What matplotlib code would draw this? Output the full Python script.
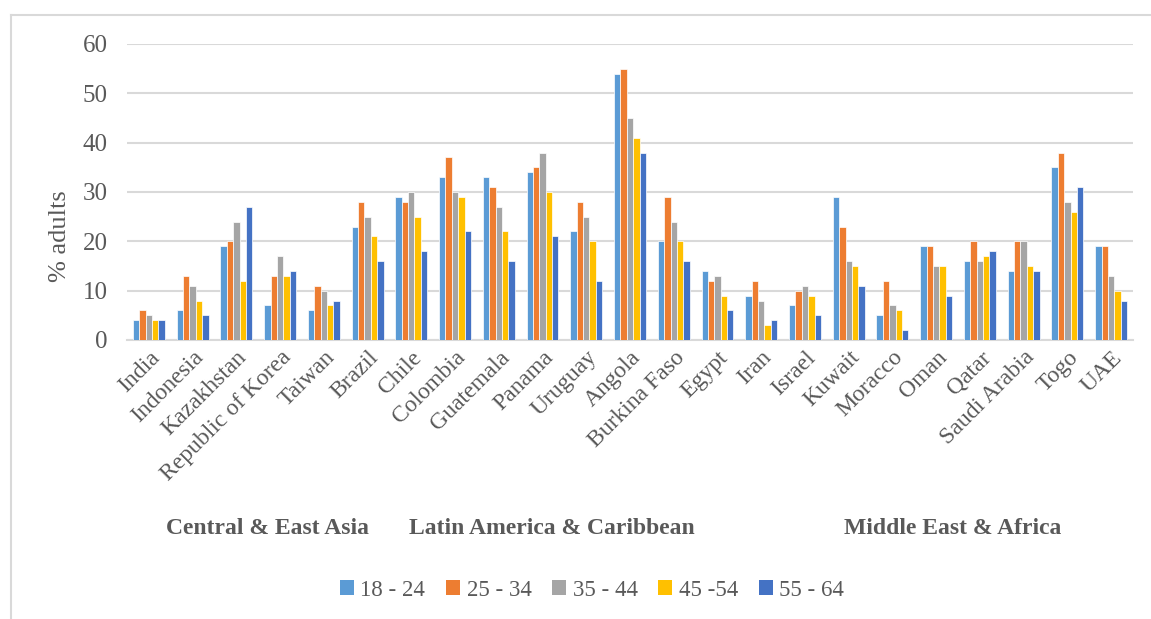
import matplotlib
matplotlib.use("Agg")
import matplotlib.pyplot as plt
import numpy as np
from matplotlib.patches import Patch
from matplotlib.lines import Line2D

plt.rcParams['font.family'] = ['Liberation Serif', 'DejaVu Serif']

countries = ["India", "Indonesia", "Kazakhstan", "Republic of Korea", "Taiwan",
             "Brazil", "Chile", "Colombia", "Guatemala", "Panama", "Uruguay",
             "Angola", "Burkina Faso", "Egypt", "Iran", "Israel", "Kuwait",
             "Moracco", "Oman", "Qatar", "Saudi Arabia", "Togo", "UAE"]
series_names = ["18 - 24", "25 - 34", "35 - 44", "45 -54", "55 - 64"]
age_18_24 = [4, 6, 19, 7, 6, 23, 29, 33, 33, 34, 22, 54, 20, 14, 9, 7, 29, 5, 19, 16, 14, 35, 19]
age_25_34 = [6, 13, 20, 13, 11, 28, 28, 37, 31, 35, 28, 55, 29, 12, 12, 10, 23, 12, 19, 20, 20, 38, 19]
age_35_44 = [5, 11, 24, 17, 10, 25, 30, 30, 27, 38, 25, 45, 24, 13, 8, 11, 16, 7, 15, 16, 20, 28, 13]
age_45_54 = [4, 8, 12, 13, 7, 21, 25, 29, 22, 30, 20, 41, 20, 9, 3, 9, 15, 6, 15, 17, 15, 26, 10]
age_55_64 = [4, 5, 27, 14, 8, 16, 18, 22, 16, 21, 12, 38, 16, 6, 4, 5, 11, 2, 9, 18, 14, 31, 8]
groups = ["Central & East Asia", "Latin America & Caribbean", "Middle East & Africa"]

colors = ["#5B9BD5", "#ED7D31", "#A5A5A5", "#FFC000", "#4472C4"]
series = [age_18_24, age_25_34, age_35_44, age_45_54, age_55_64]

W, H = 1151, 619
fig = plt.figure(figsize=(W / 100, H / 100), dpi=100)
ax = fig.add_axes([127 / W, 1 - 340 / H, (1133 - 127) / W, (340 - 44) / H])

x = np.arange(len(countries))
bw = 0.146
for i, (vals, c) in enumerate(zip(series, colors)):
    ax.bar(x + (i - 2) * bw, vals, width=bw, color=c, edgecolor='white',
           linewidth=0.5, zorder=3, label=series_names[i])

ax.set_xlim(-0.5, len(countries) - 0.5)
ax.set_ylim(0, 60)
ax.set_yticks(range(0, 61, 10))
ax.yaxis.grid(True, color='#d9d9d9', linewidth=1.5, zorder=0)
ax.set_axisbelow(True)
for s in ['top', 'right', 'left']:
    ax.spines[s].set_visible(False)
ax.spines['bottom'].set_color('#d9d9d9')
ax.spines['bottom'].set_linewidth(1.5)
ax.tick_params(axis='both', length=0, colors='#595959')
ax.tick_params(axis='y', pad=14, labelsize=18)
ax.set_xticks(x)
ax.set_xticklabels(countries, rotation=45, ha='right', va='top',
                   rotation_mode='anchor', fontsize=17, color='#595959')
ax.tick_params(axis='x', pad=5)
ax.set_ylabel('% adults', fontsize=19, color='#595959')
ax.yaxis.set_label_coords((60 - 127) / 1006, (340 - 236) / 296)
ax.yaxis.label.set_va('center')

group_x = [268, 552, 953]
for gx, g in zip(group_x, groups):
    fig.text(gx / W, 1 - 528 / H, g, ha='center', va='center', fontsize=17,
             fontweight='bold', color='#595959')

handles = [Patch(facecolor=c, edgecolor='none') for c in colors]
leg = fig.legend(handles, series_names, loc='center', bbox_to_anchor=(592 / W, 1 - 590 / H),
                 ncol=5, frameon=False, fontsize=16.5, handlelength=0.6, handleheight=0.6,
                 handletextpad=0.3, columnspacing=0.9, labelcolor='#595959')

# chart border (partially visible)
fig.add_artist(Line2D([10.5 / W, 10.5 / W], [0, 1 - 15 / H], transform=fig.transFigure,
                      color='#d9d9d9', linewidth=1.5))
fig.add_artist(Line2D([10.5 / W, 1], [1 - 15 / H, 1 - 15 / H], transform=fig.transFigure,
                      color='#d9d9d9', linewidth=1.5))

fig.savefig('out.png', dpi=100)
